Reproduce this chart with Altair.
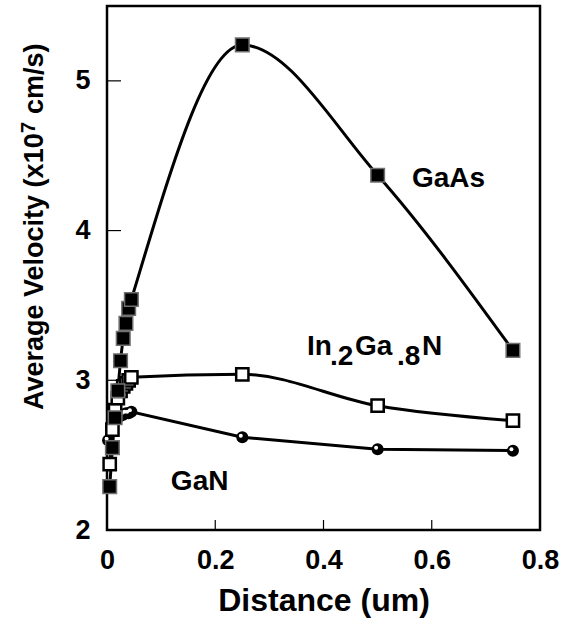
import altair as alt
import pandas as pd

# ---- data ----
x_pts = [0.005, 0.01, 0.015, 0.02, 0.025, 0.03, 0.035, 0.04, 0.045, 0.25, 0.5, 0.75]
gaas_y = [2.29, 2.55, 2.75, 2.93, 3.13, 3.28, 3.38, 3.48, 3.54, 5.24, 4.37, 3.20]
ingan_y = [2.44, 2.67, 2.80, 2.88, 2.93, 2.96, 2.98, 3.00, 3.02, 3.04, 2.83, 2.73]
gan_x = [0.002, 0.008, 0.012, 0.018, 0.024, 0.03, 0.035, 0.04, 0.045, 0.25, 0.5, 0.75]
gan_y = [2.60, 2.68, 2.72, 2.75, 2.76, 2.77, 2.78, 2.78, 2.79, 2.62, 2.54, 2.53]

x_ticks = [0.2, 0.4, 0.6]
y_ticks = [3, 4, 5]
x_labels = [0, 0.2, 0.4, 0.6, 0.8]
y_labels = [2, 3, 4, 5]

y_title_parts = ["Average Velocity (x10", "7", "cm/s)"]

FONT = "Liberation Sans"
W, H = 433, 524

gaas = pd.DataFrame({"x": x_pts, "y": gaas_y})
ingan = pd.DataFrame({"x": x_pts, "y": ingan_y})
gan = pd.DataFrame({"x": gan_x, "y": gan_y})

XSC = alt.Scale(domain=[0, 0.8], nice=False, zero=False)
YSC = alt.Scale(domain=[2, 5.5], nice=False, zero=False)

XAX = alt.Axis(values=x_labels, title="Distance (um)", labelFlush=False,
               labelExpr="datum.value == 0 ? '0' : format(datum.value, '.1f')",
               titleY=80, titleBaseline="alphabetic", labelPadding=17)
YAX = alt.Axis(values=y_labels, title="", format="d", labelFlush=False, labelPadding=17)

xs = alt.X("x:Q", scale=XSC, axis=XAX)
ys = alt.Y("y:Q", scale=YSC, axis=YAX)

def base(df):
    return alt.Chart(df).encode(x=xs, y=ys)

LW = 3
gaas_line = base(gaas).mark_line(color="black", strokeWidth=LW, interpolate="monotone")
ingan_line = base(ingan).mark_line(color="black", strokeWidth=LW, interpolate="monotone")
gan_line = base(gan).mark_line(color="black", strokeWidth=LW)

gaas_pts = base(gaas).mark_square(size=185, color="black", stroke="#707070", strokeWidth=1.5, opacity=1)
ingan_pts = base(ingan).mark_point(shape="square", size=150, filled=True, fill="white",
                                   stroke="black", strokeWidth=2.5, opacity=1)
gan_pts = base(gan).mark_circle(size=145, color="black", opacity=1)
gan_hl = base(gan).mark_circle(size=16, color="white", opacity=1, xOffset=-1.5, yOffset=-1.5)

xt = alt.Chart(pd.DataFrame({"x": x_ticks})).mark_rule(color="black", strokeWidth=1.2).encode(
    x=xs, y=alt.value(H), y2=alt.value(H - 10))
yt = alt.Chart(pd.DataFrame({"y": y_ticks})).mark_rule(color="black", strokeWidth=1.2).encode(
    y=ys, x=alt.value(0), x2=alt.value(14))

def label(text, lx, ly, dx=0, dy=0):
    return alt.Chart(pd.DataFrame({"x": [lx], "y": [ly], "t": [text]})).mark_text(
        font=FONT, fontWeight="bold", fontSize=28, align="left", baseline="alphabetic",
        dx=dx, dy=dy, color="black").encode(x=xs, y=ys, text="t:N")

ax, ay = 0.3695, 3.172
labels = [
    label("GaAs", 0.5635, 4.29),
    label("GaN", 0.118, 2.268),
    label("In", ax, ay, 0, 0),
    label(".2", ax, ay, 23, 10),
    label("Ga", ax, ay, 48, 0),
    label(".8", ax, ay, 90, 10),
    label("N", ax, ay, 115, 0),
]

# rotated y-axis title with a raised exponent
def ytitle(text, dx, dy, size):
    return alt.Chart(pd.DataFrame({"t": [text]})).mark_text(
        font=FONT, fontWeight="bold", fontSize=size, angle=270, align="left",
        baseline="alphabetic", dx=dx, dy=dy, color="black").encode(
        x=alt.value(-64), y=alt.value(404), text="t:N")

ytitles = [
    ytitle(y_title_parts[0], 0, 0, 27),
    ytitle(y_title_parts[1], 277, -8, 20),
    ytitle(y_title_parts[2], 296, 0, 27),
]

chart = alt.layer(
    gan_line, ingan_line, gaas_line, gan_pts, gan_hl, ingan_pts, gaas_pts, xt, yt,
    *labels, *ytitles
).properties(
    width=W, height=H, autosize="none",
    padding={"left": 107, "top": 6, "right": 28, "bottom": 99},
    background="white",
).configure_view(stroke="black", strokeWidth=2.5).configure_axis(
    domain=False, ticks=False, grid=False,
    labelFont=FONT, labelFontWeight="bold", labelFontSize=27, labelColor="black",
    titleFont=FONT, titleFontWeight="bold", titleFontSize=32, titleColor="black",
)

chart.save("out.html", embed_options={"renderer": "svg", "actions": False})
